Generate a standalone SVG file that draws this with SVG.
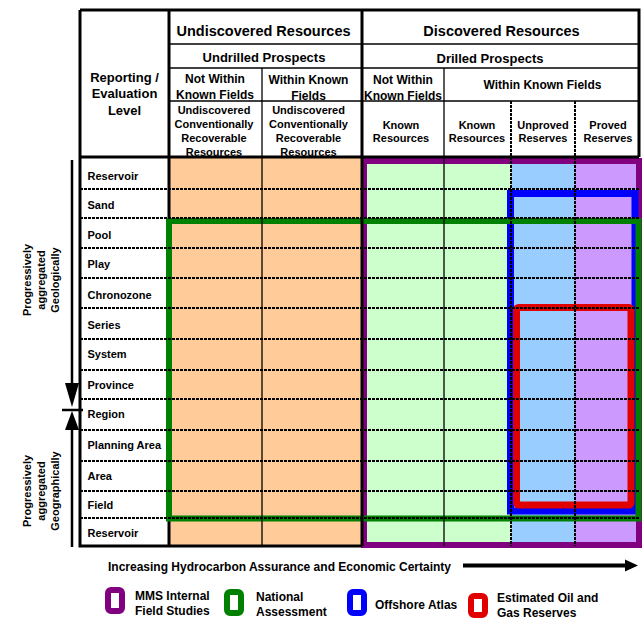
<svg xmlns="http://www.w3.org/2000/svg" width="642" height="618" viewBox="0 0 642 618">
<defs>
<style>
.t{font-family:"Liberation Sans",Arial,Helvetica,sans-serif;font-weight:bold;fill:#000}
.s145{font-size:14.5px}.s13{font-size:13px}.s12{font-size:12px}.s11{font-size:11px}
.c{text-anchor:middle}
.thin{stroke:#000;stroke-width:1.3;fill:none}
.thick{stroke:#000;stroke-width:3;fill:none}
.dot{stroke:#000;stroke-width:2;stroke-dasharray:3 1;fill:none}
.box{fill:none}
</style>
</defs>
<rect x="0" y="0" width="642" height="618" fill="#fff"/>

<!-- fills -->
<g id="fills">
<rect x="169" y="158" width="193" height="388" fill="#FFCC99"/>
<rect x="362" y="158" width="149" height="388" fill="#CCFFCC"/>
<rect x="511" y="158" width="64" height="388" fill="#99CCFF"/>
<rect x="575" y="158" width="64" height="388" fill="#CC99FF"/>
</g>

<line class="thick" x1="169" y1="157" x2="169" y2="546"/>

<!-- coverage boxes -->
<g id="box-mms"><rect class="box" x="364" y="161" width="275" height="384" stroke="#800080" stroke-width="6"/></g>
<g id="box-offshore"><rect class="box" x="510.5" y="193.5" width="124.5" height="317.5" stroke="#0000FF" stroke-width="7"/></g>
<g id="box-national"><rect class="box" x="169" y="221" width="469.5" height="297.5" stroke="#008000" stroke-width="6"/></g>
<g id="box-reserves"><rect class="box" x="516.5" y="307.5" width="114.5" height="197.5" rx="2" stroke="#E00000" stroke-width="7"/></g>

<!-- grid -->
<g id="grid">
<line class="dot" x1="80" y1="189" x2="639" y2="189"/>
<line class="dot" x1="80" y1="218" x2="639" y2="218"/>
<line class="dot" x1="80" y1="248" x2="639" y2="248"/>
<line class="dot" x1="80" y1="278" x2="639" y2="278"/>
<line class="dot" x1="80" y1="308" x2="639" y2="308"/>
<line class="dot" x1="80" y1="339" x2="639" y2="339"/>
<line class="dot" x1="80" y1="370" x2="639" y2="370"/>
<line class="dot" x1="80" y1="399" x2="639" y2="399"/>
<line class="dot" x1="80" y1="430" x2="639" y2="430"/>
<line class="dot" x1="80" y1="461" x2="639" y2="461"/>
<line class="dot" x1="80" y1="491" x2="639" y2="491"/>
<line class="dot" x1="80" y1="518" x2="639" y2="518"/>
<line class="thin" x1="262" y1="68" x2="262" y2="546"/>
<line class="thin" x1="444" y1="68" x2="444" y2="546"/>
<line class="dot" x1="511" y1="101" x2="511" y2="546"/>
<line class="dot" x1="575" y1="101" x2="575" y2="546"/>
<line class="thin" x1="169" y1="44" x2="639" y2="44"/>
<line class="thin" x1="169" y1="68" x2="639" y2="68"/>
<line class="thin" x1="169" y1="101" x2="639" y2="101"/>
<line class="thick" x1="169" y1="10" x2="169" y2="157"/>
<line class="thick" x1="362" y1="10" x2="362" y2="546"/>
<line class="thick" x1="80" y1="157" x2="639" y2="157"/>
<polyline class="thick" points="80,10 639,10 639,157"/>
<polyline class="thick" points="80,10 80,546 362,546"/>
</g>

<!-- header -->
<g id="hdr-level">
<text class="t s13 c" x="124.5" y="81.5">Reporting /</text>
<text class="t s13 c" x="124.5" y="98">Evaluation</text>
<text class="t s13 c" x="124.5" y="114.5">Level</text>
</g>
<g id="hdr-undiscovered"><text class="t s145 c" x="263.5" y="36">Undiscovered Resources</text></g>
<g id="hdr-undrilled"><text class="t s13 c" x="264" y="62">Undrilled Prospects</text></g>
<g id="hdr-u-notwithin">
<text class="t s12 c" x="215" y="83">Not Within</text>
<text class="t s12 c" x="215" y="98.5">Known Fields</text>
</g>
<g id="hdr-u-within">
<text class="t s12 c" x="308.5" y="84">Within Known</text>
<text class="t s12 c" x="308.5" y="100">Fields</text>
</g>
<g id="hdr-ucrr-1">
<text class="t s11 c" x="214" y="114">Undiscovered</text>
<text class="t s11 c" x="214" y="128">Conventionally</text>
<text class="t s11 c" x="214" y="142">Recoverable</text>
<text class="t s11 c" x="214" y="156">Resources</text>
</g>
<g id="hdr-ucrr-2">
<text class="t s11 c" x="308.5" y="114">Undiscovered</text>
<text class="t s11 c" x="308.5" y="128">Conventionally</text>
<text class="t s11 c" x="308.5" y="142">Recoverable</text>
<text class="t s11 c" x="308.5" y="156">Resources</text>
</g>
<g id="hdr-discovered"><text class="t s145 c" x="501.5" y="36">Discovered Resources</text></g>
<g id="hdr-drilled"><text class="t s13 c" x="490" y="62.5">Drilled Prospects</text></g>
<g id="hdr-d-notwithin">
<text class="t s12 c" x="403" y="84">Not Within</text>
<text class="t s12 c" x="403" y="100">Known Fields</text>
</g>
<g id="hdr-d-within"><text class="t s12 c" x="542.5" y="89">Within Known Fields</text></g>
<g id="hdr-known-1">
<text class="t s11 c" x="401" y="128.5">Known</text>
<text class="t s11 c" x="401" y="142">Resources</text>
</g>
<g id="hdr-known-2">
<text class="t s11 c" x="477" y="128.5">Known</text>
<text class="t s11 c" x="477" y="142">Resources</text>
</g>
<g id="hdr-unproved">
<text class="t s11 c" x="543" y="128.5">Unproved</text>
<text class="t s11 c" x="543" y="142">Reserves</text>
</g>
<g id="hdr-proved">
<text class="t s11 c" x="608" y="128.5">Proved</text>
<text class="t s11 c" x="608" y="142">Reserves</text>
</g>

<!-- row labels -->
<g id="row-reservoir-1"><text class="t s11" x="87.5" y="180">Reservoir</text></g>
<g id="row-sand"><text class="t s11" x="87.5" y="209">Sand</text></g>
<g id="row-pool"><text class="t s11" x="87.5" y="239">Pool</text></g>
<g id="row-play"><text class="t s11" x="87.5" y="268">Play</text></g>
<g id="row-chronozone"><text class="t s11" x="87.5" y="299">Chronozone</text></g>
<g id="row-series"><text class="t s11" x="87.5" y="329">Series</text></g>
<g id="row-system"><text class="t s11" x="87.5" y="358">System</text></g>
<g id="row-province"><text class="t s11" x="87.5" y="389">Province</text></g>
<g id="row-region"><text class="t s11" x="87.5" y="418">Region</text></g>
<g id="row-planning-area"><text class="t s11" x="87.5" y="449">Planning Area</text></g>
<g id="row-area"><text class="t s11" x="87.5" y="480">Area</text></g>
<g id="row-field"><text class="t s11" x="87.5" y="509">Field</text></g>
<g id="row-reservoir-2"><text class="t s11" x="87.5" y="537">Reservoir</text></g>

<!-- side labels -->
<g id="side-geologic">
<text class="t s11 c" transform="translate(31,280) rotate(-90)">Progressively</text>
<text class="t s11 c" transform="translate(45,280) rotate(-90)">aggregated</text>
<text class="t s11 c" transform="translate(59,280) rotate(-90)">Geologically</text>
</g>
<g id="side-geographic">
<text class="t s11 c" transform="translate(31,491) rotate(-90)">Progressively</text>
<text class="t s11 c" transform="translate(45,491) rotate(-90)">aggregated</text>
<text class="t s11 c" transform="translate(59,491) rotate(-90)">Geographically</text>
</g>

<!-- connectors / arrows -->
<g id="connectors">
<line x1="72" y1="160" x2="72" y2="386" stroke="#000" stroke-width="2.5"/>
<polygon points="65,383 79,383 72,407" fill="#000"/>
<line x1="62" y1="410" x2="83" y2="410" stroke="#000" stroke-width="2.5"/>
<polygon points="72,411 65,430 79,430" fill="#000"/>
<line x1="72" y1="428" x2="72" y2="547" stroke="#000" stroke-width="2.5"/>
<line x1="463" y1="565.5" x2="628" y2="565.5" stroke="#000" stroke-width="4"/>
<polygon points="625,559.5 638,565.5 625,571.5" fill="#000"/>
</g>
<g id="axis-label"><text class="t s12" x="108" y="571">Increasing Hydrocarbon Assurance and Economic Certainty</text></g>

<!-- legend -->
<g id="legend-mms">
<rect x="108" y="590" width="14" height="21" rx="3" fill="#fff" stroke="#800080" stroke-width="6"/>
<text class="t s12" x="135" y="599.5">MMS Internal</text>
<text class="t s12" x="135" y="615">Field Studies</text>
</g>
<g id="legend-national">
<rect x="227" y="592" width="14" height="21" rx="3" fill="#fff" stroke="#008000" stroke-width="6"/>
<text class="t s12" x="256" y="601">National</text>
<text class="t s12" x="256" y="615.5">Assessment</text>
</g>
<g id="legend-offshore">
<rect x="350" y="592" width="14" height="21" rx="3" fill="#fff" stroke="#0000FF" stroke-width="6"/>
<text class="t s12" x="375" y="609">Offshore Atlas</text>
</g>
<g id="legend-reserves">
<rect x="471" y="596" width="14" height="19" rx="3" fill="#fff" stroke="#E00000" stroke-width="6"/>
<text class="t s12" x="497" y="602">Estimated Oil and</text>
<text class="t s12" x="497" y="616.5">Gas Reserves</text>
</g>
</svg>
